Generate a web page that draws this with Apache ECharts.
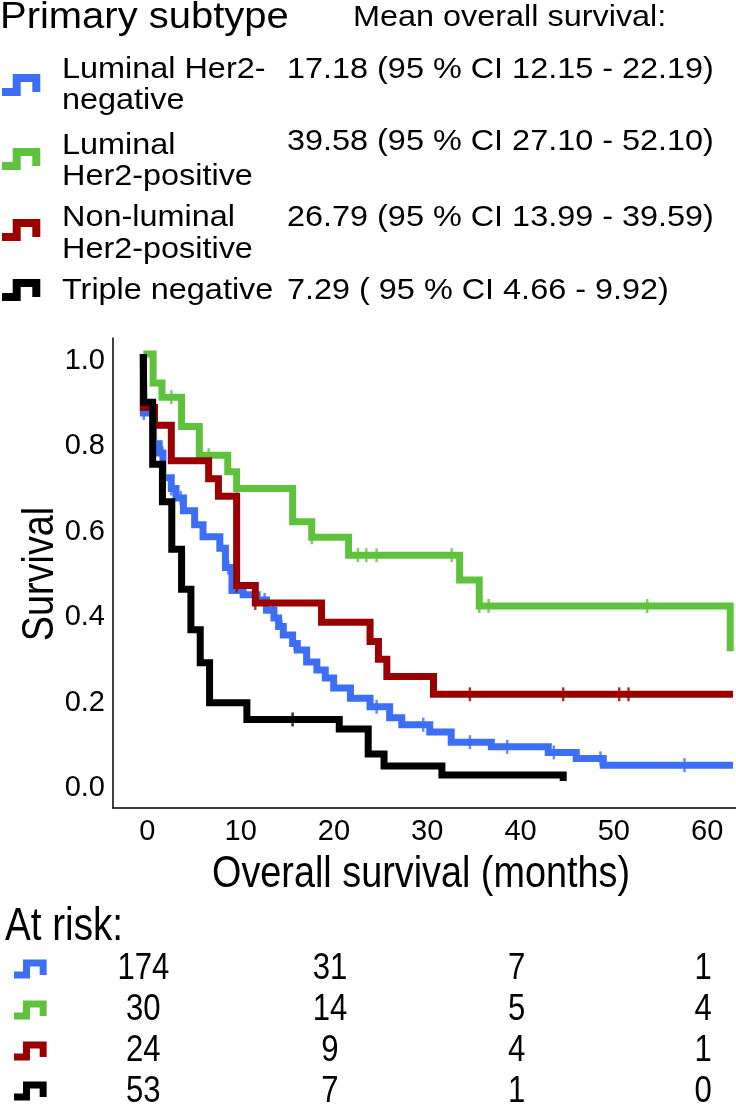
<!DOCTYPE html>
<html>
<head>
<meta charset="utf-8">
<script src="https://cdn.jsdelivr.net/npm/echarts@6/dist/echarts.min.js"></script>
<style>
html,body{margin:0;padding:0;background:#fff;}
#chart{width:736px;height:1104px;}
</style>
</head>
<body>
<div id="chart"></div>
<script>
var FONT='"Liberation Sans", Arial, sans-serif';
var TALL=0.84; // horizontal squeeze for the tall plot lettering

var groups=['Luminal Her2-negative','Luminal Her2-positive','Non-luminal Her2-positive','Triple negative'];
var legendLines=[['Luminal Her2-','negative'],['Luminal','Her2-positive'],['Non-luminal','Her2-positive'],['Triple negative']];
var meanSurvival=['17.18 (95 % CI 12.15 - 22.19)','39.58 (95 % CI 27.10 - 52.10)','26.79 (95 % CI 13.99 - 39.59)','7.29 ( 95 % CI 4.66 - 9.92)'];
var colors=['#3c6ff5','#5fc23c','#9b0000','#000000'];

// survival steps: value after a drop at that time (months)
var lumNegTime=[0,0,1.1,1.7,2.1,3.0,3.5,4.3,5.5,6.4,8.2,8.8,9.5,10.7,12.2,13.2,14.0,14.5,15.0,16.0,16.5,17.5,18.6,19.5,20.4,22.2,24.3,26.4,27.7,30.7,33.0,37.3,43.4,46.4,49.3,63.2];
var lumNegSurv=[1.0,0.862,0.79,0.768,0.71,0.685,0.663,0.633,0.6,0.572,0.545,0.5,0.446,0.436,0.424,0.40,0.382,0.362,0.342,0.322,0.307,0.279,0.26,0.241,0.218,0.194,0.174,0.148,0.132,0.115,0.091,0.08,0.067,0.053,0.037,0.037];
var lumNegCensor=[0.05,2.05,3.0,4.0,9.1,13.0,13.9,14.8,16.2,25.0,30.0,35.0,39.0,44.0,49.0,58.0];

var lumPosTime=[0,1.05,2.0,4.1,6.0,9.05,10.0,16.0,18.05,22.0,33.9,36.0,62.9];
var lumPosSurv=[1.0,0.932,0.899,0.83,0.763,0.724,0.685,0.607,0.571,0.529,0.471,0.41,0.304];
var lumPosCensor=[3.0,7.0,10.0,18.05,23.0,23.9,25.0,33.05,36.0,37.0,54.0];

var nonLumTime=[0,0,1.2,3.0,7.0,8.05,10.0,12.0,19.1,24.3,25.2,26.1,31.1,63.2];
var nonLumSurv=[1.0,0.875,0.833,0.75,0.708,0.667,0.458,0.417,0.372,0.327,0.285,0.245,0.203,0.203];
var nonLumCensor=[10.0,12.0,35.0,45.0,51.0,52.0];

var tripleTime=[0,0.05,1.0,2.05,3.05,4.1,5.1,6.1,7.1,11.1,21.0,24.1,25.8,32.0,45.0];
var tripleSurv=[1.0,0.887,0.742,0.654,0.543,0.449,0.354,0.277,0.183,0.144,0.122,0.063,0.035,0.014,0.0];
var tripleCensor=[16.0];

var xTicks=[0,10,20,30,40,50,60];
var yTicks=[0,0.2,0.4,0.6,0.8,1.0];

var riskTimes=[0,20,40,60];
var riskLumNeg=[174,31,7,1];
var riskLumPos=[30,14,5,4];
var riskNonLum=[24,9,4,1];
var riskTriple=[53,7,1,0];

var curves=[
    {time:lumNegTime,surv:lumNegSurv,censor:lumNegCensor,risk:riskLumNeg},
    {time:lumPosTime,surv:lumPosSurv,censor:lumPosCensor,risk:riskLumPos},
    {time:nonLumTime,surv:nonLumSurv,censor:nonLumCensor,risk:riskNonLum},
    {time:tripleTime,surv:tripleSurv,censor:tripleCensor,risk:riskTriple}
];

function survAt(c,t){
    var s=c.surv[0];
    for(var i=0;i<c.time.length;i++){
        if(c.time[i]<=t) s=c.surv[i];
    }
    return s;
}

// layout of the legend block
var labelY=[[70,101],[146,177],[218,250],[291]];
var ciY=[70,142,218,291];
var iconY=[85,159,230,290];
var riskRowY=[969,1010,1051,1091];

function icon(x0,yc,s,lw,color){
    var pts=[[0,17.5],[14.7,17.5],[14.7,3.5],[34.3,3.5],[34.3,17.5]];
    var y0=yc-10.5*s;
    return {type:'polyline',silent:true,
        shape:{points:pts.map(function(p){return [x0+p[0]*s,y0+p[1]*s];})},
        style:{stroke:color,lineWidth:lw,fill:null,lineJoin:'miter',lineCap:'butt'}};
}
function txt(x,y,text,size,sx,align,rot){
    return {type:'text',x:x,y:y,scaleX:sx||1,rotation:rot||0,silent:true,
        style:{text:text,fontSize:size,fontFamily:FONT,fill:'#000',
            textAlign:align||'left',textVerticalAlign:'middle',align:align||'left',verticalAlign:'middle'}};
}

var elements=[];
elements.push(txt(0,18,'Primary subtype',37,1.08));
elements.push(txt(353,18,'Mean overall survival:',30,1.08));
groups.forEach(function(g,i){
    elements.push(icon(2,iconY[i],1,8,colors[i]));
    legendLines[i].forEach(function(line,k){
        elements.push(txt(62,labelY[i][k],line,30,1.08));
    });
    elements.push(txt(287,ciY[i],meanSurvival[i],30,1.08));
    elements.push(icon(14,riskRowY[i],0.85,7,colors[i]));
});
elements.push(txt(5,927,'At risk:',46,TALL));
// axis titles
elements.push(txt(421,875,'Overall survival (months)',45,TALL,'center'));
elements.push(txt(41,574,'Survival',45,TALL,'center',Math.PI/2));

var series=[];
[1,0,2,3].forEach(function(gi){
    var c=curves[gi];
    series.push({
        type:'line',name:groups[gi],step:'end',showSymbol:false,symbol:'none',silent:true,
        data:c.time.map(function(t,i){return [t,c.surv[i]];}),
        lineStyle:{color:colors[gi],width:7,cap:'butt',join:'miter'},
        z:2+gi
    });
    series.push({
        type:'scatter',symbol:'rect',symbolSize:[2.5,14],silent:true,
        data:c.censor.map(function(t){return [t,survAt(c,t)];}),
        itemStyle:{color:colors[gi]},
        z:2+gi
    });
});
// numbers at risk, placed on the same time scale
var riskData=[];
curves.forEach(function(c,gi){
    riskTimes.forEach(function(t,j){riskData.push([t,gi,c.risk[j]]);});
});
series.push({
    type:'custom',xAxisIndex:1,yAxisIndex:1,silent:true,
    data:riskData,
    renderItem:function(params,api){
        var p=api.coord([api.value(0),api.value(1)]);
        return {type:'text',x:p[0],y:p[1],scaleX:TALL,
            style:{text:String(api.value(2)),fontSize:37,fontFamily:FONT,fill:'#000',
                align:'center',verticalAlign:'middle',textAlign:'center',textVerticalAlign:'middle'}};
    }
});

var chart=echarts.init(document.getElementById('chart'),null,{renderer:'canvas'});
chart.setOption({
    animation:false,
    backgroundColor:'#fff',
    textStyle:{fontFamily:FONT},
    grid:[
        {left:113,top:338,width:623,height:470,containLabel:false,outerBoundsMode:'none'},
        {left:113,top:948,width:623,height:164,containLabel:false,outerBoundsMode:'none'}
    ],
    xAxis:[
        {type:'value',gridIndex:0,min:-3.25,max:63.52,
            axisLine:{show:true,onZero:false,lineStyle:{color:'#000',width:1.5}},
            axisTick:{show:false},splitLine:{show:false},
            axisLabel:{customValues:xTicks,color:'#000',fontSize:29,fontFamily:FONT,margin:9,padding:[0,0,0,8]}},
        {type:'value',gridIndex:1,min:-3.25,max:63.52,show:false}
    ],
    yAxis:[
        {type:'value',gridIndex:0,min:-0.0632,max:1.0375,
            axisLine:{show:true,onZero:false,lineStyle:{color:'#000',width:1.5}},
            axisTick:{show:false},splitLine:{show:false},
            axisLabel:{customValues:yTicks,color:'#000',fontSize:29,fontFamily:FONT,margin:8,
                verticalAlign:'top',lineHeight:14,
                formatter:function(v){return Number(v).toFixed(1);}}},
        {type:'category',gridIndex:1,data:groups,inverse:true,show:false}
    ],
    graphic:{elements:elements},
    series:series
});
</script>
</body>
</html>
